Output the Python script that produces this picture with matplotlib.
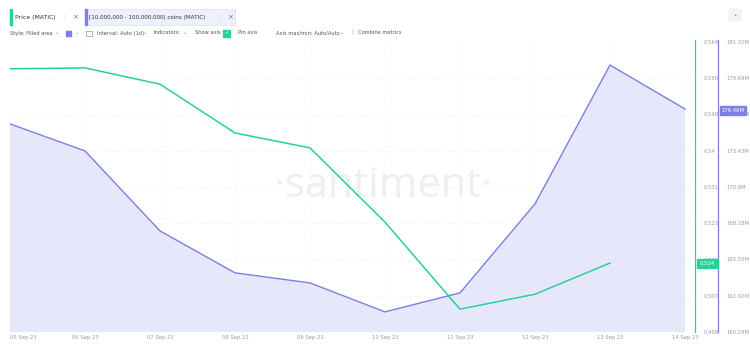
import matplotlib.pyplot as plt
from matplotlib.patches import Rectangle, FancyBboxPatch

# data
dates = ["05 Sep 23", "06 Sep 23", "07 Sep 23", "08 Sep 23", "09 Sep 23",
         "10 Sep 23", "11 Sep 23", "12 Sep 23", "13 Sep 23", "14 Sep 23"]
price = [0.5579, 0.5581, 0.5544, 0.5433, 0.5399, 0.5230, 0.5032, 0.5066, 0.5137]
coins = [175.38, 173.42, 167.62, 164.58, 163.85, 161.75, 163.13, 169.58, 179.65, 176.46]

price_ticks = [0.564, 0.556, 0.548, 0.54, 0.531, 0.523, 0.515, 0.507, 0.498]
price_tick_vals = [0.564 - 0.00825 * i for i in range(9)]
coin_ticks = ["181.32M", "178.69M", "176.06M", "173.43M", "170.8M",
              "168.18M", "165.55M", "162.92M", "160.29M"]
coin_tick_vals = [181.32 - 2.6275 * i for i in range(9)]

GREEN = "#26d19a"
PURPLE = "#7d7fe3"
FILL = "#e6e7fb"
GREY = "#9a9ca6"

fig = plt.figure(figsize=(7.5, 3.51), dpi=100)
W, H = 750, 351
left, right, top, bottom = 10, 695, 40, 332
ax = fig.add_axes([left / W, 1 - bottom / H, (right - left) / W, (bottom - top) / H])
ax2 = ax.twinx()

x = list(range(len(dates)))
ax.set_xlim(0, (right - left) / 75)

# purple filled area (outer axis)
ax.fill_between(x, coins, 150, color=FILL, lw=0)
ax.plot(x, coins, color=PURPLE, lw=1)
k = (181.32 - 160.29) / (332 - 42)
ax.set_ylim(160.29, 181.32 + 2 * k)

# green price line (inner axis)
ax2.plot(x[:len(price)], price, color=GREEN, lw=1.1)
kp = (0.564 - 0.498) / (332 - 42)
ax2.set_ylim(0.498, 0.564 + 2 * kp)

# faint dashed grid
for v in price_tick_vals[1:-1]:
    ax.axhline(160.29 + (v - 0.498) / kp * k, color="#f1f1f4", lw=0.5,
               ls=(0, (4, 3)), zorder=0.5)
for d in x[1:]:
    ax.axvline(d, color="#f6f6f8", lw=0.5, ls=(0, (4, 3)), zorder=0.5)

for a in (ax, ax2):
    for s in ("top", "left", "bottom"):
        a.spines[s].set_visible(False)
    a.tick_params(axis="y", length=0, labelsize=3.8, labelcolor=GREY, pad=6)
    a.yaxis.set_ticks_position("right")

ax.spines["right"].set_position(("outward", 23 * 72 / 100))
ax.spines["right"].set_color(PURPLE)
ax.spines["right"].set_linewidth(0.9)
ax.set_yticks(coin_tick_vals)
ax.set_yticklabels(coin_ticks)

ax2.spines["right"].set_color(GREEN)
ax2.spines["right"].set_linewidth(0.9)
ax2.set_yticks(price_tick_vals)
ax2.set_yticklabels([f"{t:g}" for t in price_ticks])

ax.set_xticks(x)
ax.set_xticklabels(dates)
ax.tick_params(axis="x", length=0, labelsize=3.8, labelcolor=GREY, pad=2)
ax.get_xticklabels()[0].set_horizontalalignment("left")

# value badges on the axes
fig.patches.append(Rectangle((697 / W, 1 - 268 / H), 21 / W, 9 / H,
                             transform=fig.transFigure, color=GREEN, zorder=5))
fig.text(707.5 / W, 1 - 263.5 / H, "0.514", color="white", fontsize=3.8,
         ha="center", va="center", zorder=6)
fig.patches.append(Rectangle((720 / W, 1 - 115 / H), 26 / W, 9 / H,
                             transform=fig.transFigure, color=PURPLE, zorder=5))
fig.text(733 / W, 1 - 110.5 / H, "176.46M", color="white", fontsize=3.8,
         ha="center", va="center", zorder=6)

# watermark
ax.text(0.545, 0.5, "·santiment·", transform=ax.transAxes, fontsize=30,
        color="#efeff3", ha="center", va="center", zorder=0.8,
        family="Open Sans")

# header chips
fig.patches.append(Rectangle((10 / W, 1 - 25 / H), 1.5 / W, 16 / H,
                             transform=fig.transFigure, color=GREEN))
fig.text(15 / W, 1 - 17 / H, "Price (MATIC)", fontsize=4.4, color="#333",
         va="center")
fig.text(61 / W, 1 - 17 / H, "⋮", fontsize=4.4, color="#aaa", va="center")
fig.text(72 / W, 1 - 17 / H, "×", fontsize=5, color="#777", va="center")
fig.patches.append(FancyBboxPatch((85 / W, 1 - 25 / H), 150 / W, 16 / H,
                                  boxstyle="square,pad=0", transform=fig.transFigure,
                                  facecolor="#eef0fc", edgecolor="#dcdff6", lw=0.5))
fig.patches.append(Rectangle((85 / W, 1 - 25 / H), 1.5 / W, 16 / H,
                             transform=fig.transFigure, color=PURPLE))
fig.text(89 / W, 1 - 17 / H, "[10,000,000 - 100,000,000) coins (MATIC)",
         fontsize=4.1, color="#333", va="center")
fig.text(216 / W, 1 - 17 / H, "⋮", fontsize=4.4, color="#aaa", va="center")
fig.text(227 / W, 1 - 17 / H, "×", fontsize=5, color="#777", va="center")

# toolbar row
ty = 1 - 33 / H
tb = dict(fontsize=3.7, color="#555", va="center")
chev = dict(fontsize=3.7, color="#888", va="center")
fig.text(10 / W, ty, "Style: Filled area", **tb)
fig.text(55 / W, ty, "⌄", **chev)
fig.patches.append(Rectangle((66 / W, 1 - 35.5 / H), 5 / W, 5 / H,
                             transform=fig.transFigure, color=PURPLE))
fig.text(75 / W, ty, "⌄", **chev)
fig.patches.append(Rectangle((86 / W, 1 - 35.5 / H), 6 / W, 5 / H,
                             transform=fig.transFigure, fill=False, ec="#777", lw=0.4))
fig.text(97 / W, ty, "Interval: Auto (1d)", **tb)
fig.text(143 / W, ty, "⌄", **chev)
fig.text(154 / W, ty, "Indicators:", **tb)
fig.text(183 / W, ty, "⌄", **chev)
fig.text(195 / W, ty, "Show axis", **tb)
fig.patches.append(Rectangle((223 / W, 1 - 36.5 / H), 7 / W, 7 / H,
                             transform=fig.transFigure, color=GREEN))
fig.text(226.5 / W, ty, "✓", fontsize=4, color="white", va="center", ha="center")
fig.text(238 / W, ty, "Pin axis", **tb)
fig.text(276 / W, ty, "Axis max/min: Auto/Auto", **tb)
fig.text(340 / W, ty, "⌄", **chev)
fig.text(351 / W, ty, "⁞", **chev)
fig.text(358 / W, ty, "Combine metrics", **tb)

# top-right button
fig.patches.append(FancyBboxPatch((729 / W, 1 - 21 / H), 12 / W, 12 / H,
                                  boxstyle="round,pad=0,rounding_size=0.005",
                                  transform=fig.transFigure, color="#f3f3f6"))
fig.text(735 / W, 1 - 15 / H, "•", fontsize=4, color="#888", ha="center", va="center")

fig.savefig("out.png", dpi=100)
